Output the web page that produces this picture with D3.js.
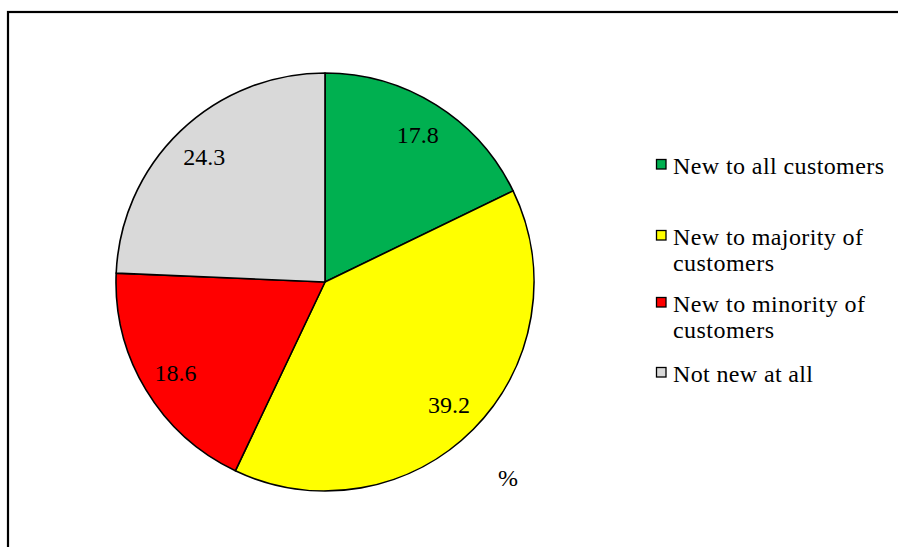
<!DOCTYPE html>
<html>
<head>
<meta charset="utf-8">
<script src="https://cdn.jsdelivr.net/npm/d3@7"></script>
<style>
  html, body { margin: 0; padding: 0; background: #fff; }
  svg { display: block; }
</style>
</head>
<body>
<svg id="chart" width="898" height="547"></svg>
<script>
const categories = ["New to all customers", "New to majority of customers", "New to minority of customers", "Not new at all"];
const legendLines = [["New to all customers"], ["New to majority of", "customers"], ["New to minority of", "customers"], ["Not new at all"]];
const values = [17.8, 39.2, 18.6, 24.3];
const colors = ["#00B050", "#FFFF00", "#FF0000", "#D9D9D9"];
const unitLabel = "%";

const FONT = "'Liberation Serif', 'Times New Roman', Tinos, Times, serif";
const svg = d3.select("#chart");

// outer frame
svg.append("rect")
  .attr("x", 8).attr("y", 12)
  .attr("width", 900).attr("height", 545)
  .attr("fill", "none").attr("stroke", "#000").attr("stroke-width", 2.2);

const cx = 325, cy = 282, r = 209;
const g = svg.append("g").attr("transform", `translate(${cx},${cy})`);

const pie = d3.pie().sort(null).value(d => d).startAngle(0).endAngle(2 * Math.PI);
const arcs = pie(values);
const arc = d3.arc().innerRadius(0).outerRadius(r);
const labelArc = d3.arc().innerRadius(r * 0.835).outerRadius(r * 0.835);

g.selectAll("path.slice")
  .data(arcs)
  .join("path")
  .attr("class", "slice")
  .attr("d", arc)
  .attr("fill", (d, i) => colors[i])
  .attr("stroke", "#000")
  .attr("stroke-width", 1.6)
  .attr("stroke-linejoin", "round");

g.selectAll("text.val")
  .data(arcs)
  .join("text")
  .attr("class", "val")
  .attr("x", d => labelArc.centroid(d)[0])
  .attr("y", d => labelArc.centroid(d)[1] + 8.5)
  .attr("text-anchor", "middle")
  .attr("font-family", FONT)
  .attr("font-size", 24)
  .attr("fill", "#000")
  .text(d => d.data.toFixed(1));

// % label
svg.append("text")
  .attr("x", 508).attr("y", 486)
  .attr("text-anchor", "middle")
  .attr("font-family", FONT)
  .attr("font-size", 24)
  .text(unitLabel);

// legend
const legendBaselines = [174, 245, 312, 382];
const lineGap = 26;
const lineWidths = [[211], [190, 101], [192, 101], [140]];
const lg = svg.append("g");
legendLines.forEach((lines, i) => {
  const by = legendBaselines[i];
  lg.append("rect")
    .attr("x", 656.5).attr("y", by - 14.5)
    .attr("width", 9.5).attr("height", 9.5)
    .attr("fill", colors[i]).attr("stroke", "#000").attr("stroke-width", 1.3);
  lines.forEach((t, j) => {
    lg.append("text")
      .attr("x", 673).attr("y", by + j * lineGap)
      .attr("font-family", FONT)
      .attr("font-size", 24)
      .attr("textLength", lineWidths[i][j])
      .attr("lengthAdjust", "spacing")
      .text(t);
  });
});
</script>
</body>
</html>
